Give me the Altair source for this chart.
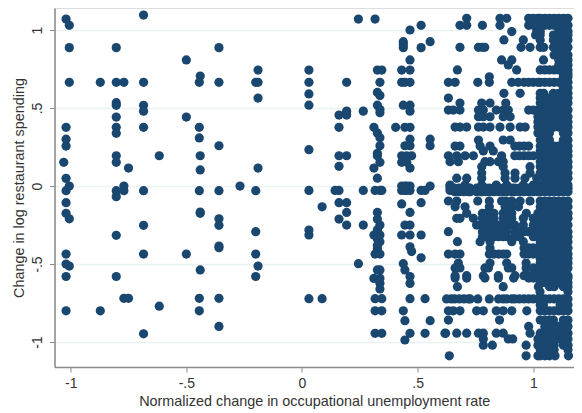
import altair as alt
import pandas as pd

# Sparse left and middle part: one list of y readings per x position
columns = {
    -1.03: [0.152],
    -1.02: [1.07, 0.376, 0.30, 0.256, 0.049, -0.03, -0.107, -0.175, -0.436, -0.5, -0.58, -0.80],
    -1.006: [1.03, 0.887, 0.665, 0.0, -0.21, -0.513],
    -0.872: [0.665, -0.80],
    -0.803: [0.887, 0.665, 0.534, 0.517, 0.442, 0.376, 0.338, 0.194, 0.152, -0.03, -0.068, -0.316, -0.58],
    -0.77: [0.665, 0.0, -0.03, -0.72],
    -0.75: [0.115, -0.72],
    -0.685: [1.096, 0.665, 0.517, 0.48, 0.376, -0.03, -0.252, -0.436, -0.947],
    -0.617: [0.194, -0.77],
    -0.5: [0.808, 0.442, -0.436],
    -0.444: [0.665, 0.376, 0.308, -0.03, -0.72, -0.80],
    -0.44: [0.705, 0.194, 0.103, -0.167, -0.175, -0.538],
    -0.359: [0.887, 0.665, 0.258, -0.03, -0.21, -0.252, -0.385, -0.395, -0.72, -0.90],
    -0.268: [0.0],
    -0.2: [0.665, -0.03, -0.293, -0.436, -0.58],
    -0.19: [0.743, 0.665, 0.564, 0.115, -0.513],
    0.03: [0.743, 0.665, 0.59, 0.518, 0.233, -0.028, -0.282, -0.314, -0.722],
    0.087: [-0.133, -0.722],
    0.143: [-0.028],
    0.16: [0.376, 0.194, 0.126, 0.455, -0.028, -0.107, -0.212],
    0.193: [0.665, 0.48, 0.455, 0.194, -0.107, -0.169, -0.25],
    0.244: [-0.498, 1.07],
    0.265: [0.48, -0.028, -0.25],
    0.311: [0.376, 0.115, -0.314, -0.592],
    0.316: [1.07, -0.028, -0.436, -0.722, -0.8, -0.944],
    0.326: [0.743, 0.6, 0.518, 0.34, 0.21, 0.194, 0.05, -0.169, -0.212, -0.28, -0.34, -0.38, -0.4, -0.42, -0.538],
    0.337: [0.665, 0.58, 0.49, 0.47, 0.31, 0.258, 0.152, -0.028, -0.25, -0.314, -0.357, -0.436, -0.538, -0.592, -0.624, -0.66],
    0.345: [0.743, -0.028, -0.722, -0.8, -0.944],
    0.405: [0.376],
    0.431: [0.743, 0.665, 0.194, 0.152, -0.028, 0.0, -0.115, -0.314],
    0.438: [0.925, 0.905, 0.887, 0.518, -0.498, -0.8],
    0.445: [0.665, 0.376, 0.258, -0.028, 0.0, -0.25, -0.538, -0.863, -0.987],
    0.453: [0.194, 0.152, -0.028, 0.0],
    0.467: [1.0, 0.808, 0.743, 0.665, 0.518, 0.48, 0.376, 0.30, 0.258, 0.115, -0.028, 0.0, -0.169, -0.25, -0.314, -0.39, -0.58, -0.624, -0.722, -0.944],
    0.474: [0.194, -0.42],
    0.515: [1.03, 0.887, -0.107, -0.028, -0.314, -0.46],
    0.532: [-0.028, -0.722, -0.944],
    0.554: [0.925, 0.30, 0.258, 0.0, -0.863],
    0.621: [-0.944],
    0.64: [-0.028, 0.0],
}

# Dense right part: x positions that a solid run of dots is drawn on
run_grid = [0.625, 0.645, 0.66, 0.68, 0.70, 0.72, 0.727, 0.755, 0.775, 0.78, 0.795, 0.81, 0.83, 0.85, 0.87,
            0.885, 0.907, 0.92, 0.94, 0.96, 0.98, 1.0, 1.02, 1.03, 1.05, 1.07, 1.09, 1.11, 1.13, 1.15]

# y, single x readings, solid runs (from, to)
rows = [
    (1.075, [0.712, 0.856, 0.885], [(0.98, 1.15)]),
    (1.03, [0.683, 0.712, 0.78, 0.856], [(0.98, 1.15)]),
    (0.99, [0.907, 1.015, 1.03], [(1.11, 1.15)]),
    (0.968, [1.01, 1.03, 1.087], [(1.11, 1.15)]),
    (0.936, [0.873, 0.957, 1.03, 1.087], [(1.11, 1.15)]),
    (0.889, [0.683, 0.763, 0.78, 0.79, 0.947, 0.986, 1.03, 1.045, 1.087], [(1.11, 1.15)]),
    (0.84, [], [(1.09, 1.15)]),
    (0.808, [0.863, 0.907, 1.044], [(1.11, 1.15)]),
    (0.776, [0.892], [(1.11, 1.15)]),
    (0.744, [0.672, 0.928], [(1.03, 1.09), (1.11, 1.15)]),
    (0.72, [], [(1.13, 1.15)]),
    (0.70, [0.81], [(1.13, 1.15)]),
    (0.665, [0.633, 0.662, 0.76, 0.81, 0.907, 0.935], [(0.96, 1.11), (1.13, 1.15)]),
    (0.63, [], [(1.13, 1.15)]),
    (0.594, [0.873, 0.943, 1.03, 1.045, 1.087], [(1.11, 1.15)]),
    (0.564, [0.633], [(1.03, 1.15)]),
    (0.532, [0.683, 0.777, 0.813, 0.881], [(1.03, 1.15)]),
    (0.487, [0.633, 0.654, 0.683, 0.763, 0.784, 0.84, 0.87, 0.892], [(0.98, 1.15)]),
    (0.444, [0.763, 0.784, 0.813, 0.87, 0.9], [(1.02, 1.15)]),
    (0.41, [], [(1.02, 1.15)]),
    (0.378, [0.662, 0.683, 0.712, 0.763, 0.784, 0.813, 0.856, 0.9, 0.943, 0.965], [(1.02, 1.15)]),
    (0.34, [], [(1.02, 1.07), (1.13, 1.15)]),
    (0.295, [0.763, 0.87, 0.9], [(1.03, 1.07), (1.13, 1.15)]),
    (0.256, [0.662, 0.683, 0.77, 0.813], [(0.92, 0.98), (1.03, 1.15)]),
    (0.225, [0.784, 0.827], [(1.03, 1.15)]),
    (0.194, [0.633, 0.669, 0.705, 0.741, 0.863], [(0.92, 1.0), (1.03, 1.15)]),
    (0.156, [0.64, 0.676, 0.791, 0.813, 0.849, 0.87], [(1.03, 1.15)]),
    (0.124, [0.777, 0.87, 0.986], [(1.03, 1.15)]),
    (0.083, [0.777, 0.878, 0.921, 0.986], [(1.03, 1.15)]),
    (0.05, [0.669, 0.712, 0.777, 0.878, 0.921, 0.964, 1.015], [(1.05, 1.15)]),
    (0.006, [0.64, 0.705, 0.777, 0.84, 0.885, 0.957], [(1.0, 1.15)]),
    (-0.014, [0.64], [(0.66, 1.15)]),
    (-0.036, [], [(0.66, 1.15)]),
    (-0.096, [0.633, 0.669, 0.76, 0.81, 0.863, 0.881, 0.907, 0.943, 0.986], [(1.03, 1.15)]),
    (-0.133, [0.662, 0.705, 0.81, 0.878, 0.907, 0.936], [(1.03, 1.15)]),
    (-0.175, [0.712, 0.97], [(0.78, 0.83), (0.87, 0.907), (1.02, 1.15)]),
    (-0.207, [0.669, 0.683, 0.741, 0.957], [(0.78, 0.83), (0.87, 0.907), (1.0, 1.15)]),
    (-0.25, [0.957], [(0.755, 0.83), (0.85, 0.92), (1.0, 1.15)]),
    (-0.293, [0.633], [(0.78, 0.885), (0.92, 1.15)]),
    (-0.325, [], [(0.78, 0.885), (0.92, 0.94), (1.0, 1.15)]),
    (-0.357, [0.672, 0.77, 0.813, 0.907, 0.957], [(1.03, 1.15)]),
    (-0.397, [0.813], [(0.96, 1.15)]),
    (-0.436, [0.633, 0.662, 0.683], [(0.81, 0.885), (0.96, 1.15)]),
    (-0.465, [], [(1.03, 1.15)]),
    (-0.494, [0.676, 0.813, 0.885, 0.969], [(1.03, 1.15)]),
    (-0.525, [0.662, 0.683, 0.791, 0.806, 0.892, 0.907, 0.969], [(1.0, 1.15)]),
    (-0.575, [0.662, 0.712, 0.784, 0.849, 0.921], [(0.96, 1.15)]),
    (-0.59, [0.662, 0.712, 0.791, 0.849, 0.915], [(0.98, 1.15)]),
    (-0.62, [], [(1.03, 1.15)]),
    (-0.645, [0.672, 0.87, 1.022], [(1.07, 1.09), (1.13, 1.15)]),
    (-0.678, [1.029, 1.15], []),
    (-0.724, [0.76, 0.81], [(0.625, 0.727), (0.85, 1.15)]),
    (-0.763, [1.03, 1.044, 1.116, 1.15], []),
    (-0.80, [0.633, 0.654, 0.683, 0.755, 0.784, 0.84, 0.87, 0.907, 0.972], [(1.03, 1.15)]),
    (-0.859, [0.633, 0.854, 1.087], [(1.03, 1.07), (1.13, 1.15)]),
    (-0.90, [0.98], [(1.05, 1.15)]),
    (-0.943, [0.618, 0.669, 0.712, 0.763, 0.784, 0.84, 0.87, 0.986], [(1.03, 1.15)]),
    (-0.98, [0.784, 0.892, 0.911], [(1.02, 1.15)]),
    (-1.02, [0.784, 0.823, 0.969], [(1.02, 1.09), (1.13, 1.15)]),
    (-1.05, [1.15], [(1.03, 1.09)]),
    (-1.088, [0.637, 0.969, 1.094, 1.152], [(1.02, 1.07)]),
]

y_ticks = [-1, -0.5, 0, 0.5, 1]
x_ticks = [-1, -0.5, 0, 0.5, 1]

records = []
for x, ys in columns.items():
    records += [{"x": x, "y": y} for y in ys]
for y, singles, runs in rows:
    records += [{"x": x, "y": y} for x in singles]
    for a, b in runs:
        records += [{"x": x, "y": y} for x in run_grid if a <= x <= b]
df = pd.DataFrame(records)

label_expr = "replace('' + datum.value, '0.', '.')"
font = "Liberation Sans"

chart = (
    alt.Chart(df)
    .mark_circle(size=85, color="#1a476f", opacity=1)
    .encode(
        x=alt.X(
            "x:Q",
            scale=alt.Scale(domain=[-1.07, 1.176], nice=False, zero=False),
            axis=alt.Axis(
                title="Normalized change in occupational unemployment rate",
                values=x_ticks, labelExpr=label_expr, grid=False,
                domainColor="#8a8a8a", tickColor="#8a8a8a", tickSize=5, domainWidth=1.5,
                labelColor="#333333", titleColor="#333333", labelFont=font, titleFont=font,
                labelFontSize=14, titleFontSize=14.4, titleFontWeight="normal",
                labelPadding=4, titlePadding=4,
            ),
        ),
        y=alt.Y(
            "y:Q",
            scale=alt.Scale(domain=[-1.16, 1.141], nice=False, zero=False),
            axis=alt.Axis(
                title="Change in log restaurant spending",
                values=y_ticks, labelExpr=label_expr, grid=True, gridColor="#eaf2f3", gridWidth=1.5,
                domainColor="#8a8a8a", tickColor="#8a8a8a", tickSize=5, domainWidth=1.5,
                labelColor="#333333", titleColor="#333333", labelFont=font, titleFont=font,
                labelFontSize=14, titleFontSize=14.4, titleFontWeight="normal",
                labelAngle=270, labelAlign="center", labelBaseline="bottom",
                labelPadding=5, titlePadding=4,
            ),
        ),
    )
    .properties(
        width=519.5, height=359,
        autosize=alt.AutoSizeParams(type="none"),
        padding={"left": 46.5, "top": 0, "right": 0, "bottom": 42},
    )
    .configure_view(strokeWidth=0)
    .configure(background="white")
)

chart.save("out.html", embed_options={"renderer": "svg", "actions": False})
